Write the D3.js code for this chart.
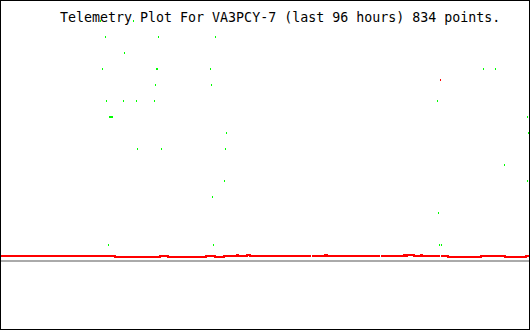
<!DOCTYPE html>
<html>
<head>
<meta charset="utf-8">
<script src="https://cdn.jsdelivr.net/npm/d3@7"></script>
<style>
  body { margin: 0; background: #fff; }
  svg { display: block; }
  .title { font-family: "DejaVu Sans Mono", monospace; font-size: 13.3px; fill: #000; }
</style>
</head>
<body>
<div id="chart"></div>
<script>
var title = "Telemetry Plot For VA3PCY-7 (last 96 hours) 834 points.";

// hours since start of the 96 hour window, and channel level
var greenHours = [18.0, 24.0, 18.9, 28.5, 38.9, 22.4, 18.4, 28.2, 28.4, 38.0, 87.6, 89.8,
  28.0, 38.2, 19.1, 22.2, 24.5, 27.8, 79.3, 19.6, 19.8, 20.0, 20.2, 95.6, 40.9, 95.8,
  24.7, 29.1, 40.7, 91.5, 40.5, 95.6, 38.4, 79.5, 19.5, 38.5, 79.6, 80.0];
var greenLevels = [15, 15, 14, 14, 14, 13, 12, 12, 12, 12, 12, 12,
  11, 11, 10, 10, 10, 10, 10, 9, 9, 9, 9, 9, 8, 8,
  7, 7, 7, 6, 5, 5, 4, 3, 1, 1, 1, 1];

// null level = no data (gap in the line)
var redHours = [0, 20.7, 28.9, 30.4, 37.3, 38.9, 40.5, 42.9, 43.1, 44.7, 45.3, 56.4,
  56.4, 56.5, 58.9, 59.3, 68.9,
  68.9, 69.1, 73.3, 73.6, 73.8, 75.1, 76.4, 76.5, 79.8,
  79.8, 80.0, 81.3, 87.3, 91.6, 95.5, 96];
var redLevels = [0.31, 0.25, 0.31, 0.25, 0.31, 0.25, 0.31, 0.38, 0.31, 0.38, 0.31, 0.31,
  null, 0.31, 0.38, 0.31, 0.31,
  null, 0.31, 0.38, 0.31, 0.38, 0.31, 0.38, 0.31, 0.31,
  null, 0.31, 0.25, 0.31, 0.25, 0.31, 0.31];

var redSpikeHours = [79.8];
var redSpikeLevels = [11.31];

var baseHours = [0, 96];
var baseLevels = [0, 0];

var width = 530, height = 330;

var svg = d3.select("#chart").append("svg")
  .attr("width", width)
  .attr("height", height);

var x = d3.scaleLinear().domain([0, 96]).range([1, 529]);
var y = d3.scaleLinear().domain([0, 16]).range([261, 5]);

var line = d3.line()
  .defined(function (d) { return d.v != null; })
  .x(function (d) { return x(d.t); })
  .y(function (d) { return y(d.v); });

// gray baseline
var base = baseHours.map(function (t, i) { return { t: t, v: baseLevels[i] }; });
svg.append("path")
  .attr("d", line(base))
  .attr("fill", "none")
  .attr("stroke", "#aaaaaa")
  .attr("stroke-width", 2)
  .attr("shape-rendering", "crispEdges");

// red channel
var red = redHours.map(function (t, i) { return { t: t, v: redLevels[i] }; });
svg.append("path")
  .attr("d", line.curve(d3.curveStepAfter)(red))
  .attr("fill", "none")
  .attr("stroke", "#ff0000")
  .attr("stroke-width", 2)
  .attr("shape-rendering", "crispEdges");

svg.selectAll(".spike")
  .data(redSpikeHours)
  .enter().append("rect")
  .attr("class", "spike")
  .attr("x", function (d) { return Math.round(x(d)); })
  .attr("y", function (d, i) { return Math.round(y(redSpikeLevels[i])) - 1; })
  .attr("width", 1)
  .attr("height", 2)
  .attr("fill", "#ff0000")
  .attr("shape-rendering", "crispEdges");

// green channel points
svg.selectAll(".pt")
  .data(greenHours)
  .enter().append("rect")
  .attr("class", "pt")
  .attr("x", function (d) { return Math.round(x(d)); })
  .attr("y", function (d, i) { return Math.round(y(greenLevels[i])) - 1; })
  .attr("width", 1)
  .attr("height", 2)
  .attr("fill", "#00ff00")
  .attr("shape-rendering", "crispEdges");

svg.append("text")
  .attr("class", "title")
  .attr("x", 60)
  .attr("y", 22)
  .text(title);

svg.append("rect")
  .attr("x", 0.5)
  .attr("y", 0.5)
  .attr("width", 529)
  .attr("height", 329)
  .attr("fill", "none")
  .attr("stroke", "#000")
  .attr("stroke-width", 1);
</script>
</body>
</html>
